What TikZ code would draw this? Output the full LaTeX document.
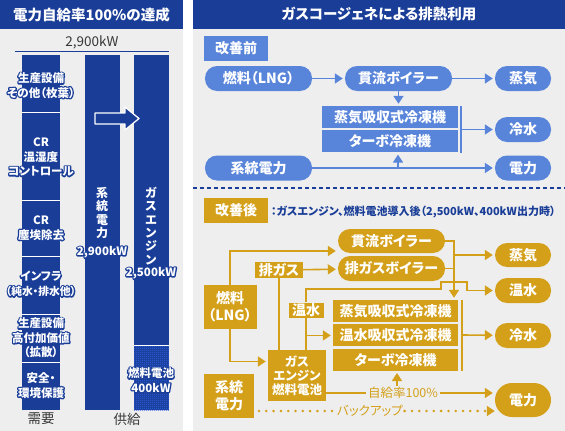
\documentclass[tikz,border=0pt]{standalone}
\usepackage{fontspec}
\setmainfont{Noto Sans CJK JP}[RawFeature=+palt]
\usepackage{tikz}
\usetikzlibrary{arrows.meta,positioning,patterns}
\definecolor{darkblue}{RGB}{26,62,152}
\definecolor{midblue}{RGB}{88,132,218}
\definecolor{checkblue}{RGB}{48,96,230}
\definecolor{goldc}{RGB}{212,160,26}
\definecolor{panelgray}{RGB}{238,238,238}
\definecolor{inkgray}{RGB}{55,55,55}
\newcommand{\outl}[1]{\leavevmode\rlap{\color{darkblue}\special{pdf:literal direct 2.6 w 1 j 1 J 1 Tr}#1\special{pdf:literal direct 0 Tr}}#1}
\newcommand{\fs}[2]{\fontsize{#1}{#2}\selectfont}
\pgfdeclarepatternformonly{finecheck}{\pgfqpoint{0pt}{0pt}}{\pgfqpoint{2pt}{2pt}}{\pgfqpoint{2pt}{2pt}}{%
  \pgfpathrectangle{\pgfqpoint{0pt}{0pt}}{\pgfqpoint{1pt}{1pt}}%
  \pgfpathrectangle{\pgfqpoint{1pt}{1pt}}{\pgfqpoint{1pt}{1pt}}%
  \pgfusepath{fill}}
\tikzstyle{titletxt}=[text=white,font=\bfseries\fs{14.5}{17}]
\tikzstyle{bartxt}=[align=center,text=white,inner sep=0pt,font=\bfseries\fs{11.5}{14.5}]
\tikzstyle{vtxt}=[align=center,text=white,inner sep=0pt,font=\bfseries\fs{12}{13.3}]
\tikzstyle{axistxt}=[text=inkgray,font=\fs{13.5}{16}]
\tikzstyle{notetxt}=[text=darkblue,inner sep=0pt,font=\bfseries\fs{11}{13}]
\tikzstyle{pill}=[rectangle,rounded corners=12pt,minimum height=25pt,inner sep=0pt,
                  text=white,font=\bfseries\fs{14}{16}]
\tikzstyle{bpill}=[pill,fill=midblue]
\tikzstyle{gpill}=[pill,fill=goldc]
\tikzstyle{bluebox}=[rectangle,fill=midblue,minimum width=136pt,minimum height=22pt,inner sep=0pt,
                  text=white,font=\bfseries\fs{14}{16}]
\tikzstyle{goldbox}=[rectangle,fill=goldc,inner sep=0pt,text=white,align=center,font=\bfseries\fs{14}{17}]
\tikzstyle{tagbox}=[rectangle,minimum width=64pt,minimum height=25pt,inner sep=0pt,
                  text=white,font=\bfseries\fs{14}{16}]
\tikzstyle{onlinetxt}=[fill=panelgray,text=goldc,inner sep=1.5pt,font=\fs{12.5}{14}]
\tikzstyle{barrow}=[-{Triangle[length=8pt,width=10pt]},line width=1.6pt,draw=midblue,shorten >=2pt]
\tikzstyle{garrow}=[-{Triangle[length=8pt,width=10pt]},line width=1.6pt,draw=goldc,shorten >=2pt]
\tikzstyle{gline}=[line width=1.6pt,draw=goldc]
\tikzstyle{gdots}=[line width=2.8pt,draw=goldc,line cap=round,dash pattern=on 0pt off 7.3pt]

\begin{document}
\begin{tikzpicture}[x=1pt,y=-1pt]
  \useasboundingbox (0,0) rectangle (565,431);
  \fill[white] (0,0) rectangle (565,431);

  \fill[panelgray] (0,29) rectangle (183,431);
  \fill[darkblue] (0,0) rectangle (183,29);
  \node[titletxt] (lefttitle) at (91.5,14.5) {電力自給率100\%の達成};
  \node[axistxt] (total) at (92,42) {2,900kW};
  \draw[darkblue,line width=1pt] (15,51.5) -- (169,51.5);
  \fill[darkblue] (22,55) rectangle (60,410);
  \foreach \yy in {112,200,256,314,362}
    \draw[white,line width=1pt] (22,\yy) -- (60,\yy);
  \fill[darkblue] (85,55) rectangle (120,410);
  \fill[darkblue] (134,55) rectangle (169,410);
  \fill[pattern=finecheck,pattern color=checkblue] (134,345) rectangle (169,410);
  \draw[white,line width=1pt] (134,345) -- (169,345);
  \filldraw[fill=darkblue,draw=white,line width=1.3pt,line join=round]
    (95,113) -- (125,113) -- (125,107) -- (139,118.5) -- (125,130) -- (125,124) -- (95,124) -- cycle;

  \node[bartxt] (need1) at (41,85.5) {\outl{生産設備}\\\outl{その他（枚葉）}};
  \node[bartxt] (need2) at (41,157) {\outl{CR}\\\outl{温湿度}\\\outl{コントロール}};
  \node[bartxt] (need3) at (41,228) {\outl{CR}\\\outl{塵埃除去}};
  \node[bartxt] (need4) at (41,284) {\outl{インフラ}\\\fs{10.8}{14.5}\outl{（純水・排水他）}};
  \node[bartxt] (need5) at (41,338) {\outl{生産設備}\\\outl{高付加価値}\\\outl{（拡散）}};
  \node[bartxt] (need6) at (41,385.5) {\outl{安全・}\\\outl{環境保護}};
  \node[vtxt] (gridv) at (102,213) {系\\統\\電\\力};
  \node[bartxt] (gridkw) at (102,252) {\outl{2,900kW}};
  \node[vtxt] (gasv) at (151,226) {ガ\\ス\\エ\\ン\\ジ\\ン};
  \node[bartxt] (gaskw) at (151,273) {\outl{2,500kW}};
  \node[bartxt] (fcv) at (151,380) {\outl{燃料電池}\\\outl{400kW}};
  \node[axistxt] (demand) at (41,419) {需要};
  \node[axistxt] (supply) at (127,419) {供給};

  \fill[panelgray] (193,29) rectangle (565,431);
  \fill[darkblue] (193,0) rectangle (565,29);
  \node[titletxt] (righttitle) at (379,14.5) {ガスコージェネによる排熱利用};
  \draw[darkblue,line width=1.5pt,dash pattern=on 4pt off 3pt] (193,188) -- (565,188);

  \node[tagbox,fill=midblue] (before) at (236,48.5) {改善前};
  \node[bpill,minimum width=107pt] (fuelA) at (258.5,78.5) {燃料（LNG）};
  \node[bpill,minimum width=107pt] (boilerA) at (398.5,78.5) {貫流ボイラー};
  \node[bpill,minimum width=56pt] (steamA) at (523,78.5) {蒸気};
  \node[bluebox] (absA) at (390,117) {蒸気吸収式冷凍機};
  \node[bluebox,below=2pt of absA] (turboA) {ターボ冷凍機};
  \node[bpill,minimum width=56pt] (coldA) at (523,129.5) {冷水};
  \node[bpill,minimum width=107pt] (gridA) at (258.5,168) {系統電力};
  \node[bpill,minimum width=56pt] (powerA) at (523,168) {電力};
  \coordinate (chillA) at (461,129.5);
  \coordinate (tapA) at (398,168);

  \draw[barrow] (fuelA) -- (boilerA);
  \draw[barrow] (boilerA) -- (steamA);
  \draw[barrow] (boilerA.south) -- (boilerA.south |- absA.north);
  \draw[midblue,line width=1.6pt] (chillA |- absA.north) -- (chillA |- turboA.south);
  \draw[barrow] (chillA) -- (coldA);
  \draw[barrow] (gridA) -- (powerA);
  \draw[barrow] (tapA) -- (tapA |- turboA.south);

  \node[tagbox,fill=goldc] (after) at (236,210.5) {改善後};
  \node[notetxt,anchor=west] (note) at (271,211.5) {：ガスエンジン、燃料電池導入後（2,500kW、400kW出力時）};
  \node[gpill,minimum width=107pt,minimum height=24pt] (boilerB) at (391.5,241) {貫流ボイラー};
  \node[gpill,minimum width=107pt] (exhboilB) at (391.5,268.5) {排ガスボイラー};
  \node[gpill,minimum width=56pt,minimum height=24pt] (steamB) at (523,255) {蒸気};
  \node[gpill,minimum width=56pt] (hotB) at (523,290.5) {温水};
  \node[gpill,minimum width=56pt] (coldB) at (523,335.5) {冷水};
  \node[gpill,minimum width=56pt,minimum height=34pt,rounded corners=17pt] (powerB) at (523,400) {電力};
  \node[goldbox,minimum width=53pt,minimum height=44pt] (fuelB) at (230,307) {燃料\\（LNG）};
  \node[goldbox,minimum width=50pt,minimum height=44pt] (gridB) at (229,396) {系統\\電力};
  \node[goldbox,minimum width=48pt,minimum height=16pt] (exhB) at (279,270) {排ガス};
  \node[goldbox,minimum width=35pt,minimum height=15pt] (hotlabB) at (306,310) {温水};
  \node[goldbox,minimum width=125pt,minimum height=22pt] (absB) at (395.5,311) {蒸気吸収式冷凍機};
  \node[goldbox,minimum width=125pt,minimum height=22pt,below=2pt of absB] (hwabsB) {温水吸収式冷凍機};
  \node[goldbox,minimum width=125pt,minimum height=22pt,below=2pt of hwabsB] (turboB) {ターボ冷凍機};
  \node[goldbox,minimum width=58pt,minimum height=51pt,font=\bfseries\fs{12.5}{14}] (engB) at (297,375.5) {ガス\\エンジン\\燃料電池};
  \node[onlinetxt] (selfrate) at (403,393) {自給率100\%};
  \node[onlinetxt] (backup) at (370,411) {バックアップ};
  \coordinate (steamjoin) at (454,255);
  \coordinate (chillB) at (462,335);
  \coordinate (bkstart) at (259,411);

  \draw[garrow] (fuelB.north) |- ([yshift=-10pt]boilerB.west);
  \draw[garrow] (fuelB.south) |- ([yshift=14pt]engB.west);
  \draw[garrow] (exhB) -- (exhboilB);
  \draw[gline] (exhB.south |- engB.north) -- (exhB.south);
  \draw[gline] (hotlabB.south |- engB.north) -- (hotlabB.south);
  \draw[garrow] (hotlabB.north) |- (441,289) -- (441,282) -- (467,282) -- (467,290.5) -- (hotB.west);
  \draw[garrow] (hotlabB.south |- hwabsB.west) -- (hwabsB.west);
  \draw[garrow] (boilerB.east) -| (steamjoin |- absB.north);
  \draw[gline] (exhboilB.east) -- (exhboilB.east -| steamjoin);
  \draw[garrow] (steamjoin) -- (steamB.west);
  \draw[gline] (chillB |- absB.north) -- (chillB |- turboB.south);
  \draw[garrow] (chillB) -- (coldB);
  \draw[gline] (engB.east |- selfrate) -- (selfrate.west);
  \draw[garrow] (selfrate.east) -- (selfrate.east -| powerB.west);
  \draw[garrow] ([xshift=-6pt]selfrate.north) -- ([xshift=-6pt]selfrate.north |- turboB.south);
  \draw[gdots] (bkstart) -- (backup.west);
  \draw[gdots,-{Triangle[length=8pt,width=10pt]}] (backup.east) -- (backup.east -| powerB.west);
\end{tikzpicture}
\end{document}
